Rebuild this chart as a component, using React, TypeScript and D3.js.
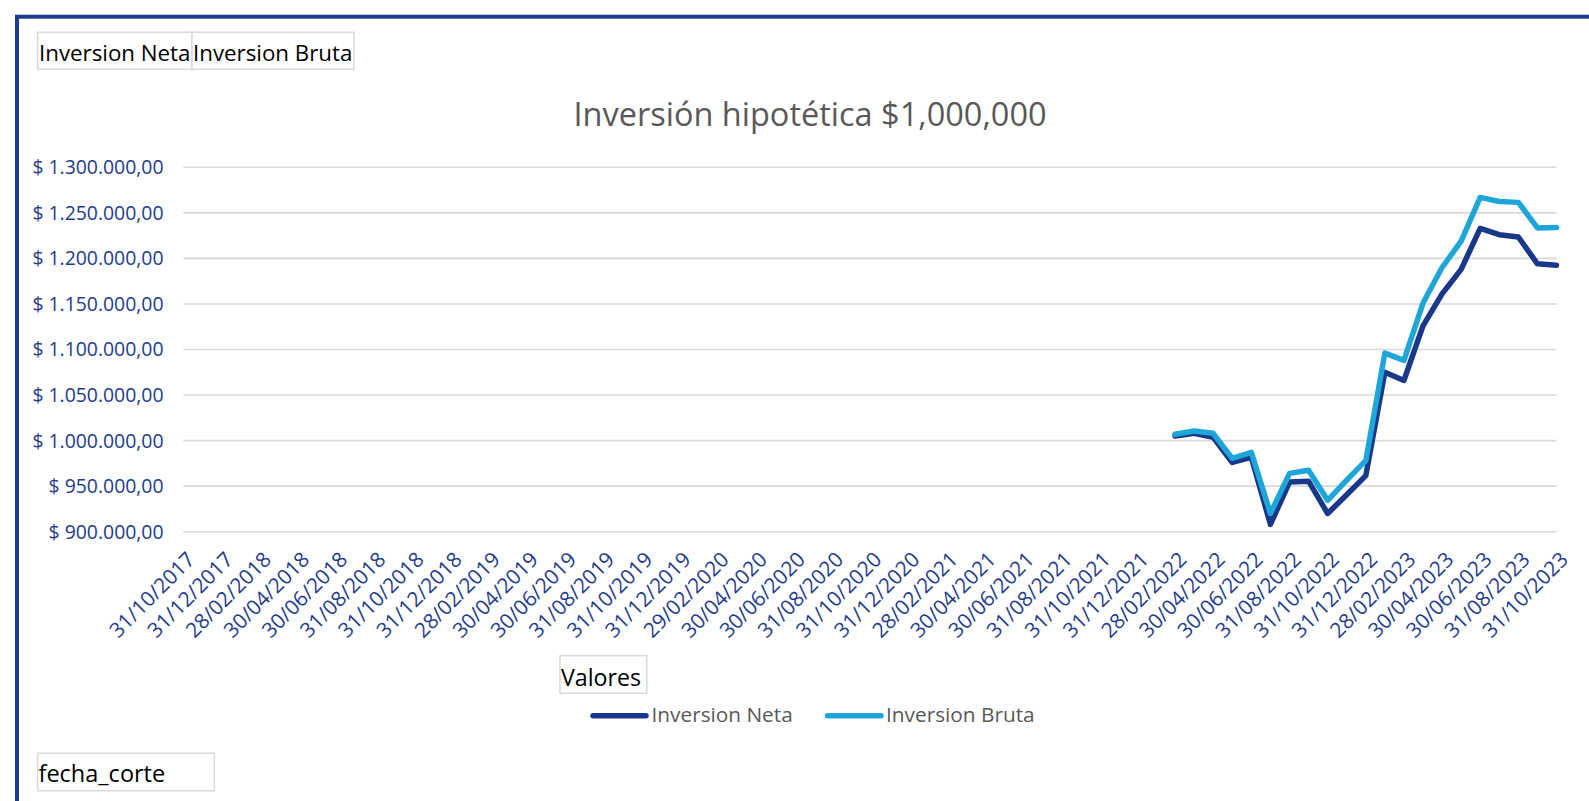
import React from "react";
import * as d3 from "d3";

const fechas = [
  "31/10/2017","30/11/2017","31/12/2017","31/01/2018","28/02/2018","31/03/2018","30/04/2018","31/05/2018","30/06/2018","31/07/2018","31/08/2018","30/09/2018",
  "31/10/2018","30/11/2018","31/12/2018","31/01/2019","28/02/2019","31/03/2019","30/04/2019","31/05/2019","30/06/2019","31/07/2019","31/08/2019","30/09/2019",
  "31/10/2019","30/11/2019","31/12/2019","31/01/2020","29/02/2020","31/03/2020","30/04/2020","31/05/2020","30/06/2020","31/07/2020","31/08/2020","30/09/2020",
  "31/10/2020","30/11/2020","31/12/2020","31/01/2021","28/02/2021","31/03/2021","30/04/2021","31/05/2021","30/06/2021","31/07/2021","31/08/2021","30/09/2021",
  "31/10/2021","30/11/2021","31/12/2021","31/01/2022","28/02/2022","31/03/2022","30/04/2022","31/05/2022","30/06/2022","31/07/2022","31/08/2022","30/09/2022",
  "31/10/2022","30/11/2022","31/12/2022","31/01/2023","28/02/2023","31/03/2023","30/04/2023","31/05/2023","30/06/2023","31/07/2023","31/08/2023","30/09/2023",
  "31/10/2023",
];

// series start at this date (earlier months have no value)
const inicioSerie = "28/02/2022";

const inversionNeta = [
  1005000, 1008000, 1003500, 976000, 981500, 908000, 954500, 955500, 920000, 940500, 961500,
  1075000, 1066000, 1126000, 1161000, 1188000, 1233000, 1226000, 1223500, 1194000, 1192500,
];

const inversionBruta = [
  1007000, 1010500, 1008000, 980500, 987000, 920000, 964000, 967500, 934500, 956500, 978000,
  1096000, 1088000, 1151000, 1190000, 1219000, 1267000, 1262500, 1261500, 1233500, 1234000,
];

const yTicks = [900000, 950000, 1000000, 1050000, 1100000, 1150000, 1200000, 1250000, 1300000];

const titulo = "Inversión hipotética $1,000,000";
const serieNombres = ["Inversion Neta", "Inversion Bruta"];

const FONT = "'Open Sans', 'Noto Sans', sans-serif";
const AXIS_COLOR = "#1F3C8C";
const NETA_COLOR = "#1A388A";
const BRUTA_COLOR = "#1FA6D8";

const locale = d3.formatLocale({
  decimal: ",",
  thousands: ".",
  grouping: [3],
  currency: ["$ ", ""],
});
const fmt = locale.format("$,.2f");

export default function App() {
  const left = 183.3;
  const right = 1556.5;
  const top = 167.3;
  const bottom = 531.7;

  const x = d3.scalePoint<string>().domain(fechas).range([left, right]);
  const y = d3.scaleLinear().domain([900000, 1300000]).range([bottom, top]);

  const start = fechas.indexOf(inicioSerie);
  const toPts = (vals: number[]) =>
    vals.map((v, i) => ({ d: fechas[start + i], v }));

  const line = d3
    .line<{ d: string; v: number }>()
    .x((p) => x(p.d) as number)
    .y((p) => y(p.v));

  const labelFechas = fechas.filter((_, i) => i % 2 === 0);

  return (
    <svg
      width={1589}
      height={801}
      style={{ position: "absolute", left: 0, top: 0, background: "#fff" }}
      fontFamily={FONT}
    >
      <rect x={0} y={0} width={1589} height={801} fill="#fff" />
      {/* outer frame */}
      <rect x={17} y={16.7} width={1600} height={820} fill="none" stroke="#1E3C8E" strokeWidth={4} />

      {/* field buttons */}
      <rect x={37.7} y={32.3} width={154.3} height={37} fill="#fff" stroke="#D9D9D9" strokeWidth={1.5} />
      <rect x={192} y={32.3} width={162} height={37} fill="#fff" stroke="#D9D9D9" strokeWidth={1.5} />
      <text x={39} y={60.5} fontSize={22.3} fill="#000">{serieNombres[0]}</text>
      <text x={193} y={60.5} fontSize={22.3} fill="#000">{serieNombres[1]}</text>

      {/* title */}
      <text x={810} y={126} fontSize={32.5} fill="#595959" textAnchor="middle">
        {titulo}
      </text>

      {/* gridlines and y labels */}
      {yTicks.map((t) => (
        <g key={t}>
          <line x1={left} x2={right} y1={y(t)} y2={y(t)} stroke="#D9D9D9" strokeWidth={1.6} />
          <text
            x={163.5}
            y={y(t)}
            dy="0.36em"
            fontSize={19.4}
            fill={AXIS_COLOR}
            textAnchor="end"
          >
            {fmt(t)}
          </text>
        </g>
      ))}

      {/* x labels */}
      {labelFechas.map((f) => (
        <text
          key={f}
          transform={`translate(${(x(f) as number) + 2},${550}) rotate(-45)`}
          dy="0.74em"
          fontSize={20.8}
          fill={AXIS_COLOR}
          textAnchor="end"
        >
          {f}
        </text>
      ))}

      {/* series */}
      <path
        d={line(toPts(inversionNeta)) || ""}
        fill="none"
        stroke={NETA_COLOR}
        strokeWidth={5.5}
        strokeLinejoin="round"
        strokeLinecap="round"
      />
      <path
        d={line(toPts(inversionBruta)) || ""}
        fill="none"
        stroke={BRUTA_COLOR}
        strokeWidth={5.5}
        strokeLinejoin="round"
        strokeLinecap="round"
      />

      {/* Valores button */}
      <rect x={560} y={655.7} width={86.7} height={37.6} fill="#fff" stroke="#D9D9D9" strokeWidth={1.5} />
      <text x={561} y={686} fontSize={23.2} fill="#000">Valores</text>

      {/* legend */}
      <line x1={593} x2={646} y1={715.7} y2={715.7} stroke={NETA_COLOR} strokeWidth={5.5} strokeLinecap="round" />
      <text x={651.5} y={722} fontSize={20.8} fill="#595959">{serieNombres[0]}</text>
      <line x1={827.5} x2={881} y1={715.7} y2={715.7} stroke={BRUTA_COLOR} strokeWidth={5.5} strokeLinecap="round" />
      <text x={886} y={722} fontSize={20.8} fill="#595959">{serieNombres[1]}</text>

      {/* fecha_corte button */}
      <rect x={37.7} y={753.3} width={176.6} height={37.4} fill="#fff" stroke="#D9D9D9" strokeWidth={1.5} />
      <text x={38.5} y={782} fontSize={23.5} fill="#000">fecha_corte</text>
    </svg>
  );
}
